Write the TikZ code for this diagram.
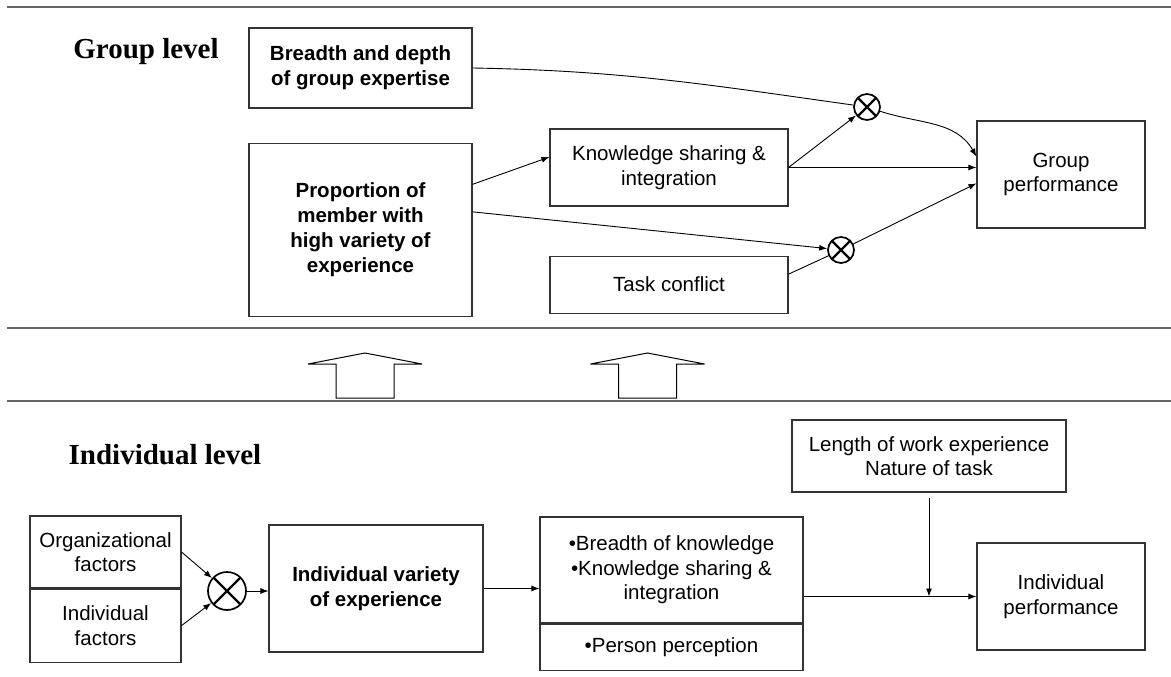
\documentclass[tikz,border=0pt]{standalone}
\usepackage{fontspec}
\setmainfont{Liberation Sans}
\newfontfamily\levelfont{Liberation Serif}
\usetikzlibrary{arrows.meta, positioning}

\begin{document}
\begin{tikzpicture}[x=1pt, y=-1pt, >={Latex[length=8pt,width=6pt]}, font=\fontsize{20.5}{24.5}\selectfont]
\tikzstyle{bx}=[draw=black!80, line width=1.1pt, inner sep=0pt, align=center]
\tikzstyle{bbx}=[bx, font=\fontsize{20.5}{25}\selectfont\bfseries]
\tikzstyle{lvl}=[font=\levelfont\bfseries\fontsize{29}{34}\selectfont]
\tikzstyle{mult}=[circle, draw, line width=1.7pt, fill=white, inner sep=0pt, minimum size=26pt,
  path picture={\draw[line width=2.2pt] (path picture bounding box.north west) -- (path picture bounding box.south east)
    (path picture bounding box.north east) -- (path picture bounding box.south west);}]
\tikzstyle{link}=[line width=0.9pt]
\tikzstyle{sep}=[draw=black!60, line width=1.8pt]

\useasboundingbox (0,0) rectangle (1171,677);

% separators between the levels
\draw[sep] (7,7) -- (1171,7);
\draw[sep] (7,328) -- (1171,328);
\draw[sep] (7,401) -- (1171,401);

% group level
\node[lvl] (glabel) at (146,52) {Group level};
\node[bbx, minimum width=223pt, minimum height=80pt] (breadth) at (360.5,68) {Breadth and depth\\of group expertise};
\node[bbx, minimum width=223pt, minimum height=173pt, below=34pt of breadth] (prop) {Proportion of\\member with\\high variety of\\experience};
\node[bx, minimum width=238pt, minimum height=77pt] (ks) at (669,167.5) {Knowledge sharing \&\\integration};
\node[bx, minimum width=238pt, minimum height=57pt, below=49pt of ks] (tc) {Task conflict};
\node[bx, minimum width=168pt, minimum height=107pt] (gp) at (1061,174.5) {Group\\performance};
\node[mult] (x1) at (867,107) {};
\node[mult] (x2) at (841,250) {};

\draw[link] (breadth.east) to[out=-1, in=172] (x1);
\draw[link, ->] (x1) to[out=-18, in=120] (gp.168);
\draw[link, ->] (prop.22) -- (ks.175);
\draw[link, ->] (prop.9) -- (x2);
\draw[link, ->] (ks.east) -- (x1);
\draw[link, ->] (ks.east) -- (ks.east -| gp.west);
\draw[link] (tc.5) -- (x2);
\draw[link, ->] (x2) -- (gp.186);

% upward block arrows
\foreach \c in {365,647.5}
  \draw[line width=1pt] (\c-29,398) -- (\c-29,364) -- (\c-57,364) -- (\c,353) -- (\c+57,364) -- (\c+29,364) -- (\c+29,398) -- cycle;

% individual level
\node[lvl] (ilabel) at (165,455) {Individual level};
\node[bx, minimum width=151pt, minimum height=72pt] (org) at (105.5,552) {Organizational\\factors};
\node[bx, minimum width=151pt, minimum height=73pt, below=0pt of org] (ind) {Individual\\factors};
\node[mult, minimum size=38pt] (x3) at (227,591) {};
\node[bbx, minimum width=214pt, minimum height=127pt] (iv) at (376,588.5) {Individual variety\\of experience};
\node[bx, minimum width=263pt, minimum height=106pt] (bk) at (671.5,570) {\textbullet Breadth of knowledge\\\textbullet Knowledge sharing \&\\integration};
\node[bx, minimum width=263pt, minimum height=46pt, below=0pt of bk] (pp) {\textbullet Person perception};
\node[bx, minimum width=274pt, minimum height=72pt] (len) at (929,456) {Length of work experience\\Nature of task};
\node[bx, minimum width=168pt, minimum height=107pt] (ip) at (1061,596.5) {Individual\\performance};

\draw[link, ->] (org.east) -- (x3);
\draw[link, ->] (ind.east) -- (x3);
\draw[link, ->] (x3) -- (x3 -| iv.west);
\draw[link, ->] (iv.east) -- (iv.east -| bk.west);
\draw[link, ->] (bk.east |- ip.west) -- (ip.west);
\draw[link, ->] ([yshift=-5pt]len.south) -- (len.south |- ip.west);
\end{tikzpicture}
\end{document}
